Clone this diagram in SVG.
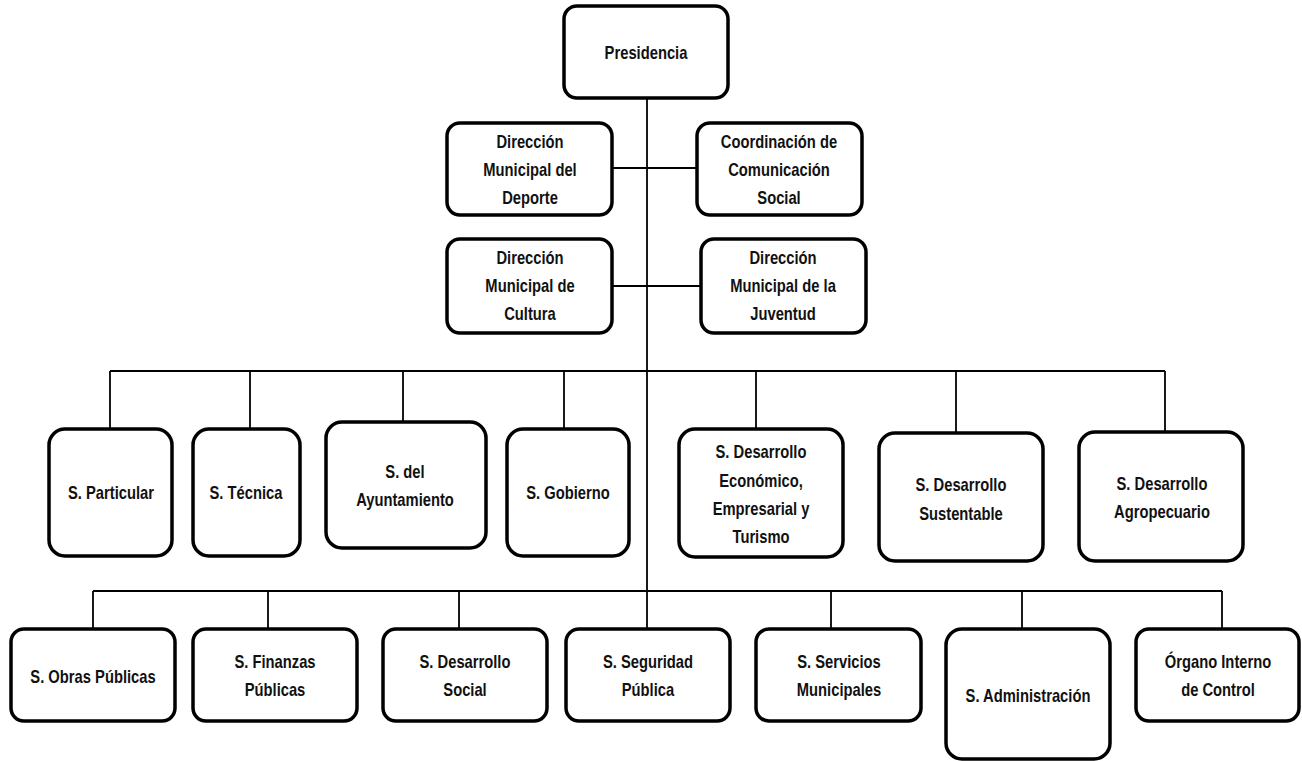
<svg xmlns="http://www.w3.org/2000/svg" width="1302" height="761" viewBox="0 0 1302 761">
  <style>
    .box { fill: #ffffff; stroke: #000000; stroke-width: 3.5; }
    .wire { stroke: #000000; stroke-width: 1.8; fill: none; }
    text { font-family: "Liberation Sans", Arial, sans-serif; font-weight: bold; font-size: 18px; fill: #111111; text-anchor: middle; }
  </style>
  <rect width="1302" height="761" fill="#ffffff"/>

  <!-- connectors -->
  <g id="connectors" class="wire">
    <line x1="647" y1="98" x2="647" y2="629"/>
    <line x1="612" y1="168" x2="697" y2="168"/>
    <line x1="612" y1="286" x2="701" y2="286"/>
    <!-- first tier bus -->
    <line x1="110" y1="371" x2="1165" y2="371"/>
    <line x1="110" y1="371" x2="110" y2="429"/>
    <line x1="250" y1="371" x2="250" y2="429"/>
    <line x1="403" y1="371" x2="403" y2="430"/>
    <line x1="564" y1="371" x2="564" y2="429"/>
    <line x1="756" y1="371" x2="756" y2="429"/>
    <line x1="956" y1="371" x2="956" y2="433"/>
    <line x1="1165" y1="371" x2="1165" y2="432"/>
    <!-- second tier bus -->
    <line x1="93" y1="591" x2="1222" y2="591"/>
    <line x1="93" y1="591" x2="93" y2="629"/>
    <line x1="268" y1="591" x2="268" y2="629"/>
    <line x1="459" y1="591" x2="459" y2="629"/>
    <line x1="831" y1="591" x2="831" y2="629"/>
    <line x1="1022" y1="591" x2="1022" y2="629"/>
    <line x1="1222" y1="591" x2="1222" y2="629"/>
  </g>

  <!-- top -->
  <g id="presidencia">
    <rect class="box" x="564" y="6" width="164" height="92" rx="13"/>
    <text transform="translate(646,59) scale(.82,1)">Presidencia</text>
  </g>

  <g id="dir-deporte">
    <rect class="box" x="447" y="123" width="165" height="92" rx="13"/>
    <text transform="translate(530,148) scale(.82,1)">Dirección</text>
    <text transform="translate(530,176) scale(.82,1)">Municipal del</text>
    <text transform="translate(530,204) scale(.82,1)">Deporte</text>
  </g>

  <g id="coord-comunicacion">
    <rect class="box" x="697" y="123" width="165" height="92" rx="13"/>
    <text transform="translate(779,148) scale(.82,1)">Coordinación de</text>
    <text transform="translate(779,176) scale(.82,1)">Comunicación</text>
    <text transform="translate(779,204) scale(.82,1)">Social</text>
  </g>

  <g id="dir-cultura">
    <rect class="box" x="447" y="239" width="165" height="94" rx="13"/>
    <text transform="translate(530,264) scale(.82,1)">Dirección</text>
    <text transform="translate(530,292) scale(.82,1)">Municipal de</text>
    <text transform="translate(530,320) scale(.82,1)">Cultura</text>
  </g>

  <g id="dir-juventud">
    <rect class="box" x="701" y="239" width="165" height="94" rx="13"/>
    <text transform="translate(783,264) scale(.82,1)">Dirección</text>
    <text transform="translate(783,292) scale(.82,1)">Municipal de la</text>
    <text transform="translate(783,320) scale(.82,1)">Juventud</text>
  </g>

  <!-- first tier -->
  <g id="s-particular">
    <rect class="box" x="49" y="429" width="123" height="127" rx="16"/>
    <text transform="translate(111,499) scale(.82,1)">S. Particular</text>
  </g>

  <g id="s-tecnica">
    <rect class="box" x="193" y="429" width="107" height="127" rx="16"/>
    <text transform="translate(246,499) scale(.82,1)">S. Técnica</text>
  </g>

  <g id="s-ayuntamiento">
    <rect class="box" x="326" y="422" width="160" height="126" rx="16"/>
    <text transform="translate(405,478) scale(.82,1)">S. del</text>
    <text transform="translate(405,506) scale(.82,1)">Ayuntamiento</text>
  </g>

  <g id="s-gobierno">
    <rect class="box" x="507" y="429" width="122" height="127" rx="16"/>
    <text transform="translate(568,499) scale(.82,1)">S. Gobierno</text>
  </g>

  <g id="s-des-economico">
    <rect class="box" x="679" y="429" width="164" height="128" rx="16"/>
    <text transform="translate(761,458) scale(.82,1)">S. Desarrollo</text>
    <text transform="translate(761,487) scale(.82,1)">Económico,</text>
    <text transform="translate(761,515) scale(.82,1)">Empresarial y</text>
    <text transform="translate(761,543) scale(.82,1)">Turismo</text>
  </g>

  <g id="s-des-sustentable">
    <rect class="box" x="879" y="433" width="164" height="128" rx="16"/>
    <text transform="translate(961,491) scale(.82,1)">S. Desarrollo</text>
    <text transform="translate(961,520) scale(.82,1)">Sustentable</text>
  </g>

  <g id="s-des-agropecuario">
    <rect class="box" x="1079" y="432" width="164" height="129" rx="16"/>
    <text transform="translate(1162,490) scale(.82,1)">S. Desarrollo</text>
    <text transform="translate(1162,518) scale(.82,1)">Agropecuario</text>
  </g>

  <!-- second tier -->
  <g id="s-obras">
    <rect class="box" x="11" y="629" width="164" height="92" rx="13"/>
    <text transform="translate(93,683) scale(.82,1)">S. Obras Públicas</text>
  </g>

  <g id="s-finanzas">
    <rect class="box" x="193" y="629" width="164" height="92" rx="13"/>
    <text transform="translate(275,668) scale(.82,1)">S. Finanzas</text>
    <text transform="translate(275,696) scale(.82,1)">Públicas</text>
  </g>

  <g id="s-des-social">
    <rect class="box" x="383" y="629" width="164" height="92" rx="13"/>
    <text transform="translate(465,668) scale(.82,1)">S. Desarrollo</text>
    <text transform="translate(465,696) scale(.82,1)">Social</text>
  </g>

  <g id="s-seguridad">
    <rect class="box" x="566" y="629" width="164" height="92" rx="13"/>
    <text transform="translate(648,668) scale(.82,1)">S. Seguridad</text>
    <text transform="translate(648,696) scale(.82,1)">Pública</text>
  </g>

  <g id="s-servicios">
    <rect class="box" x="756" y="629" width="165" height="92" rx="13"/>
    <text transform="translate(839,668) scale(.82,1)">S. Servicios</text>
    <text transform="translate(839,696) scale(.82,1)">Municipales</text>
  </g>

  <g id="s-administracion">
    <rect class="box" x="946" y="629" width="164" height="130" rx="16"/>
    <text transform="translate(1028,702) scale(.82,1)">S. Administración</text>
  </g>

  <g id="organo-control">
    <rect class="box" x="1136" y="629" width="163" height="92" rx="13"/>
    <text transform="translate(1218,668) scale(.82,1)">Órgano Interno</text>
    <text transform="translate(1218,696) scale(.82,1)">de Control</text>
  </g>
</svg>
